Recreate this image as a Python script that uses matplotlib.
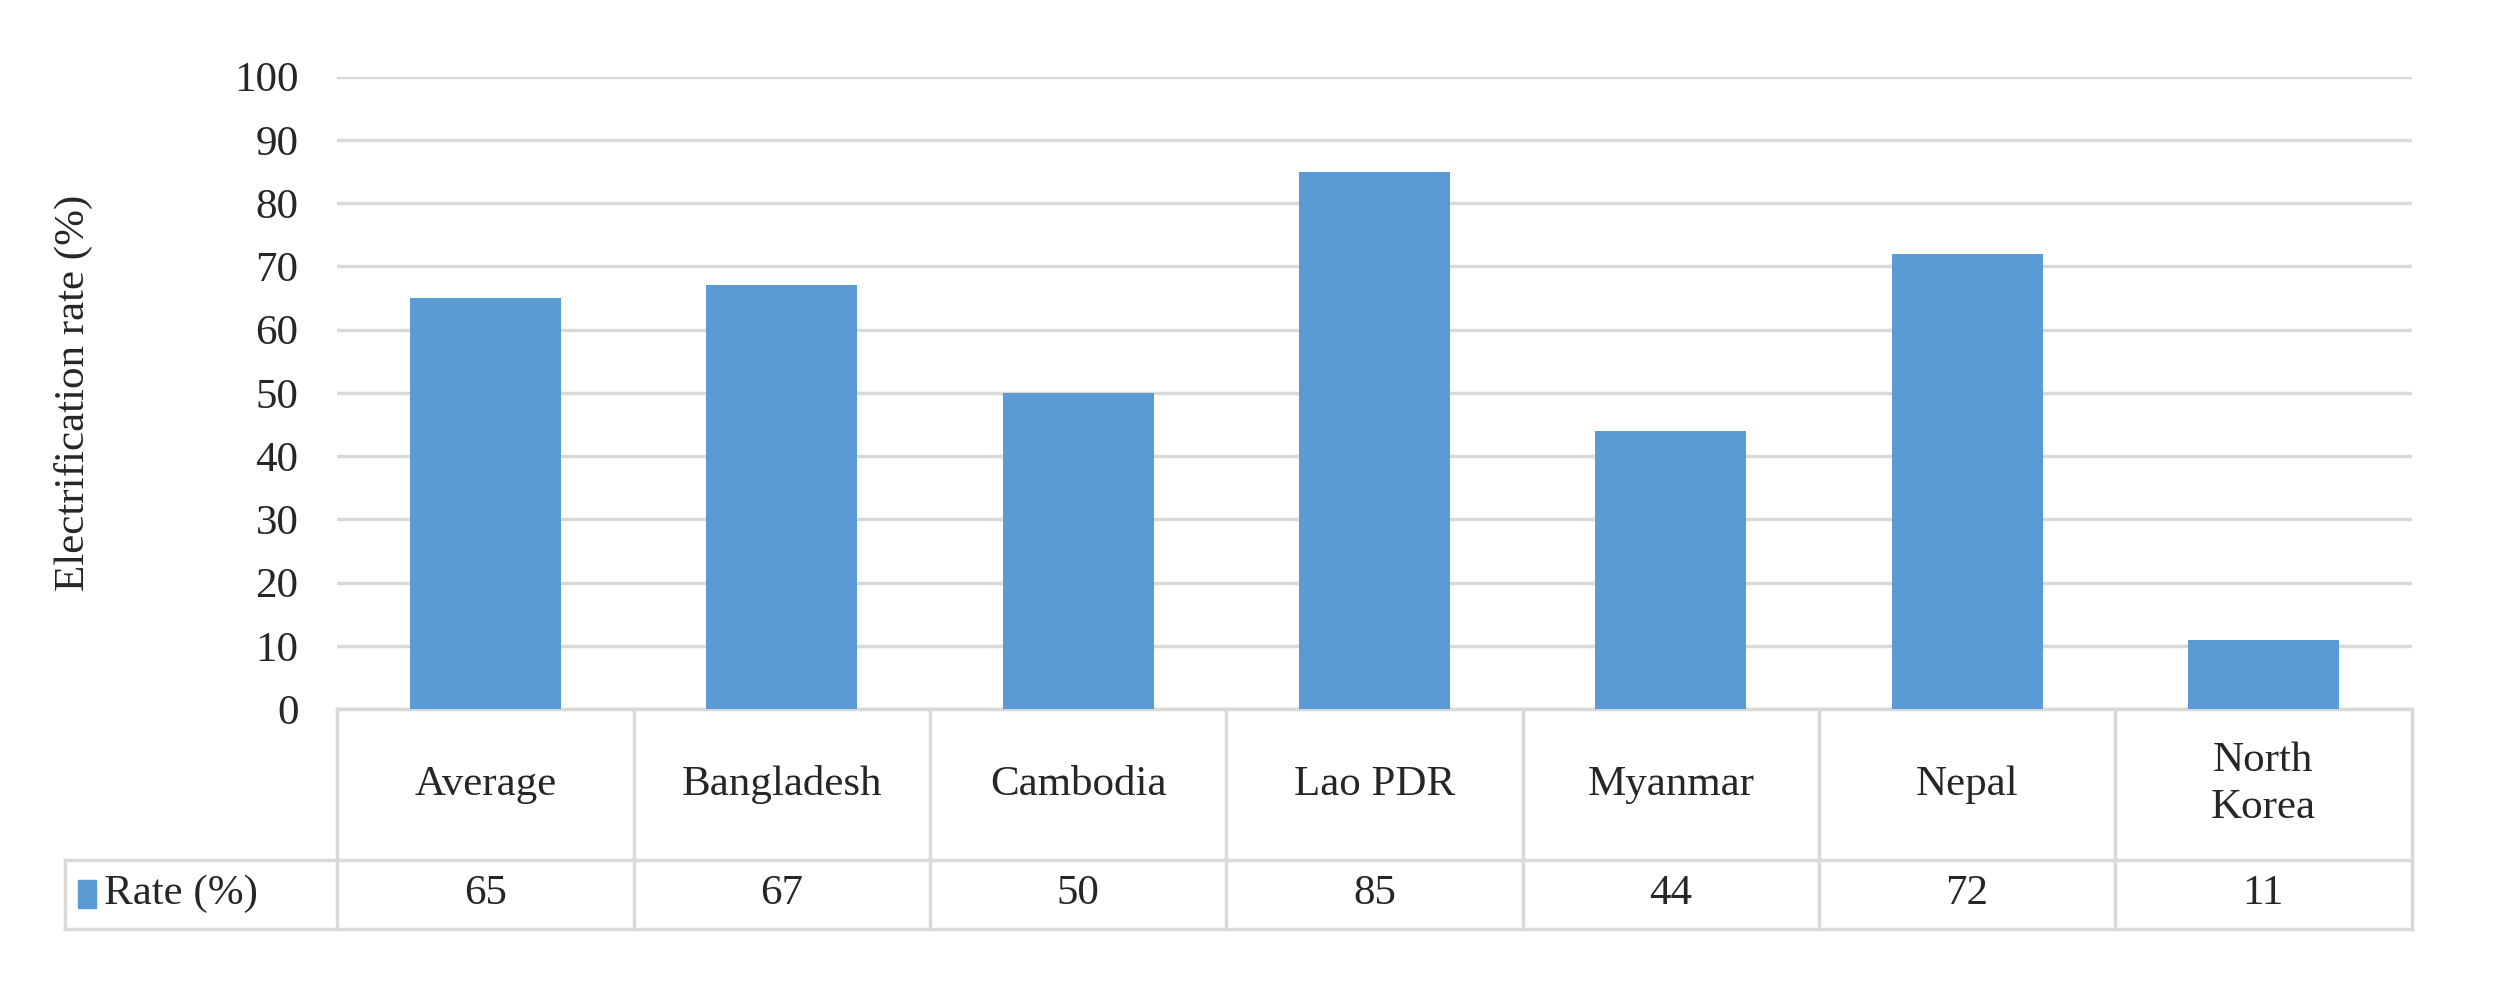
import matplotlib as mpl
mpl.use("Agg")
import matplotlib.pyplot as plt
import matplotlib.transforms as mtransforms
from matplotlib.patches import Rectangle

countries = ["Average", "Bangladesh", "Cambodia", "Lao PDR", "Myanmar", "Nepal", "North\nKorea"]
rates = [65, 67, 50, 85, 44, 72, 11]
series_name = "Rate (%)"
bar_color = "#5B9BD5"
line_color = "#D9D9D9"

plt.rcParams["font.family"] = ["Liberation Serif", "DejaVu Serif"]
fs = 31
fig = plt.figure(figsize=(24.99, 9.96), dpi=100)
ax = fig.add_axes([0.135, 0.288, 0.83, 0.635])

x = list(range(len(countries)))
ax.bar(x, rates, width=0.51, color=bar_color, zorder=3)
ax.set_xlim(-0.5, len(countries) - 0.5)
ax.set_ylim(0, 100)
ax.set_yticks(range(0, 101, 10))
ax.tick_params(axis="y", labelsize=fs, length=0, pad=28, colors="#262626")
ax.set_xticks([])
ax.grid(axis="y", color=line_color, linewidth=2.5, zorder=0)
for s in ax.spines.values():
    s.set_visible(False)
ax.set_ylabel("Electrification rate (%)", fontsize=fs, color="#262626")
ax.yaxis.set_label_coords(-0.118, 0.5)

# data table under the axes
tr = mtransforms.blended_transform_factory(ax.transData, ax.transAxes)
cat_h = 0.238
row_h = 0.109
left_x = -0.5 - 170 / 185.0
kw = dict(transform=tr, clip_on=False, color=line_color, linewidth=2.5)
ax.plot([-0.5, 6.5], [0, 0], **kw)
ax.plot([left_x, 6.5], [-cat_h, -cat_h], **kw)
ax.plot([left_x, 6.5], [-cat_h - row_h, -cat_h - row_h], **kw)
for k in range(len(countries) + 1):
    ax.plot([k - 0.5, k - 0.5], [0, -cat_h - row_h], **kw)
ax.plot([left_x, left_x], [-cat_h, -cat_h - row_h], **kw)

for xi, name, v in zip(x, countries, rates):
    ax.text(xi, -cat_h / 2, name, transform=tr, ha="center", va="center",
            fontsize=fs, color="#262626", linespacing=1.3)
    ax.text(xi, -cat_h - row_h / 2, str(v), transform=tr, ha="center", va="center",
            fontsize=fs, color="#262626")

ax.add_patch(Rectangle((left_x + 0.045, -cat_h - row_h / 2 - 0.022), 0.06, 0.044,
                       transform=tr, clip_on=False, color=bar_color))
ax.text(left_x + 0.13, -cat_h - row_h / 2, series_name, transform=tr, ha="left",
        va="center", fontsize=fs, color="#262626")

fig.savefig("out.png")
